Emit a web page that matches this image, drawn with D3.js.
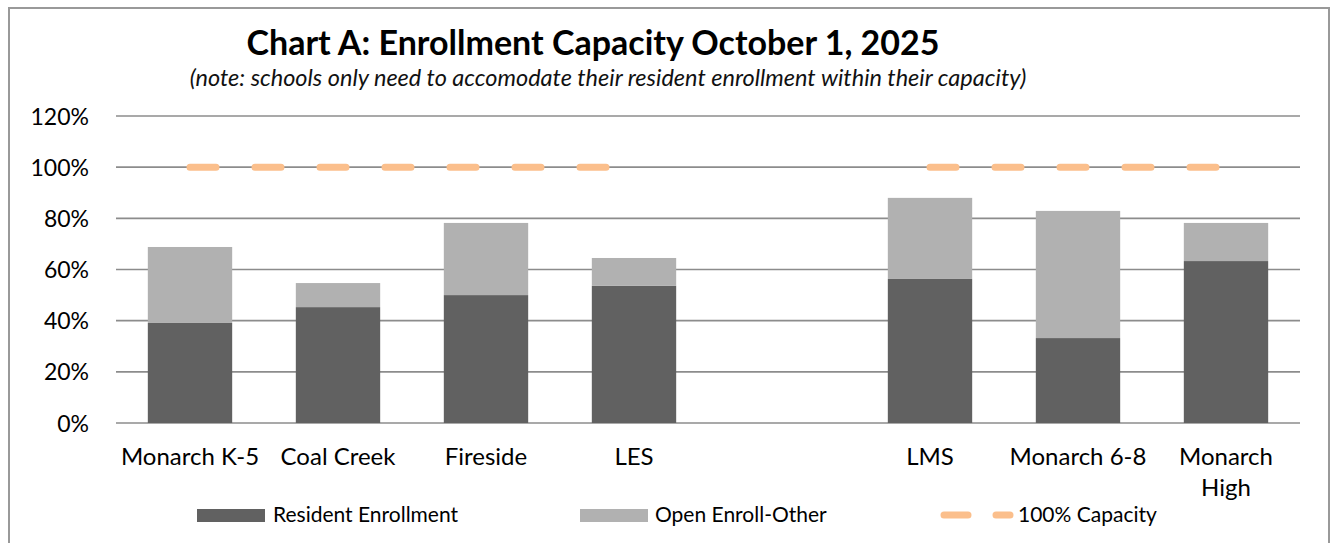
<!DOCTYPE html>
<html lang="en">
<head>
  <meta charset="UTF-8">
  <title>Chart A: Enrollment Capacity</title>
  <style>
    body { margin: 0; background: #fff; font-family: Lato, "Open Sans", sans-serif; }
    svg { display: block; }
  </style>
</head>
<body>
  <svg width="1337" height="543"></svg>

  <script src="https://d3js.org/d3.v7.min.js"></script>
  <script>
    // データ（空の枠は学校グループの区切り）
    const schools = ["Monarch K-5", "Coal Creek", "Fireside", "LES", "", "LMS", "Monarch 6-8", "Monarch High"];
    const resident = [39.1, 45.3, 50.0, 53.6, null, 56.3, 33.2, 63.3];
    const openEnroll = [29.7, 9.4, 28.2, 10.9, null, 31.7, 49.7, 14.9];
    const capacity = [100, 100, 100, 100, null, 100, 100, 100];
    const yTicks = [0, 20, 40, 60, 80, 100, 120];

    const svg = d3.select("svg");
    const plotLeft = 116, plotRight = 1300, plotTop = 116, plotBottom = 423;

    // 外枠
    svg.append("rect")
      .attr("x", 9).attr("y", 8).attr("width", 1320).attr("height", 560)
      .attr("fill", "none").attr("stroke", "#999").attr("stroke-width", 2);

    svg.append("text").attr("x", 593).attr("y", 55).attr("text-anchor", "middle")
      .attr("font-size", "34px").attr("font-weight", "bold").attr("fill", "#000")
      .text("Chart A: Enrollment Capacity October 1, 2025");
    svg.append("text").attr("x", 608).attr("y", 86).attr("text-anchor", "middle")
      .attr("font-size", "23.5px").attr("font-style", "italic").attr("fill", "#111")
      .text("(note: schools only need to accomodate their resident enrollment within their capacity)");

    const x = d3.scaleBand().domain(d3.range(schools.length)).range([plotLeft, plotRight]).paddingInner(0.43).paddingOuter(0.215);
    const y = d3.scaleLinear().domain([0, 120]).range([plotBottom, plotTop]);

    // 横線
    yTicks.forEach(t => {
      svg.append("line")
        .attr("x1", plotLeft).attr("x2", plotRight)
        .attr("y1", y(t)).attr("y2", y(t))
        .attr("stroke", "#8c8c8c").attr("stroke-width", 1.6);
    });

    const yAxis = svg.append("g").attr("transform", `translate(${plotLeft - 24},0)`)
      .call(d3.axisLeft(y).tickValues(yTicks).tickFormat(d => d + "%").tickSize(0));
    yAxis.select(".domain").remove();
    yAxis.selectAll("text").attr("font-size", "23px").attr("font-family", "Lato, sans-serif").attr("fill", "#000").attr("dy", "0.35em");

    // 積み上げ棒
    const bars = svg.append("g");
    schools.forEach((s, i) => {
      if (resident[i] == null) return;
      bars.append("rect")
        .attr("x", x(i)).attr("width", x.bandwidth())
        .attr("y", y(resident[i])).attr("height", y(0) - y(resident[i]))
        .attr("fill", "#616161");
      bars.append("rect")
        .attr("x", x(i)).attr("width", x.bandwidth())
        .attr("y", y(resident[i] + openEnroll[i])).attr("height", y(resident[i]) - y(resident[i] + openEnroll[i]))
        .attr("fill", "#b1b1b1");
    });

    // 100% 容量ライン
    const line = d3.line()
      .defined(d => d != null)
      .x((d, i) => x(i) + x.bandwidth() / 2)
      .y(d => y(d));
    svg.append("path")
      .datum(capacity)
      .attr("fill", "none").attr("stroke", "#fbbf8c").attr("stroke-width", 7)
      .attr("stroke-linecap", "round").attr("stroke-dasharray", "26 39")
      .attr("d", line);

    // x軸ラベル
    schools.forEach((s, i) => {
      if (!s) return;
      const cx = x(i) + x.bandwidth() / 2;
      const lines = s === "Monarch High" ? ["Monarch", "High"] : [s];
      lines.forEach((l, k) => {
        svg.append("text").attr("x", cx).attr("y", 465 + k * 31)
          .attr("text-anchor", "middle").attr("font-size", "24px").attr("fill", "#000").text(l);
      });
    });

    // 凡例
    const lg = svg.append("g").attr("font-size", "21px").attr("fill", "#000");
    lg.append("rect").attr("x", 197).attr("y", 509).attr("width", 68).attr("height", 13).attr("fill", "#616161");
    lg.append("text").attr("x", 273).attr("y", 522).text("Resident Enrollment");
    lg.append("rect").attr("x", 580).attr("y", 509).attr("width", 68).attr("height", 13).attr("fill", "#b1b1b1");
    lg.append("text").attr("x", 655).attr("y", 522).text("Open Enroll-Other");
    lg.append("line").attr("x1", 944).attr("x2", 1010).attr("y1", 515).attr("y2", 515)
      .attr("stroke", "#fbbf8c").attr("stroke-width", 7).attr("stroke-linecap", "round").attr("stroke-dasharray", "24 28");
    lg.append("text").attr("x", 1018).attr("y", 522).text("100% Capacity");
  </script>
</body>
</html>
